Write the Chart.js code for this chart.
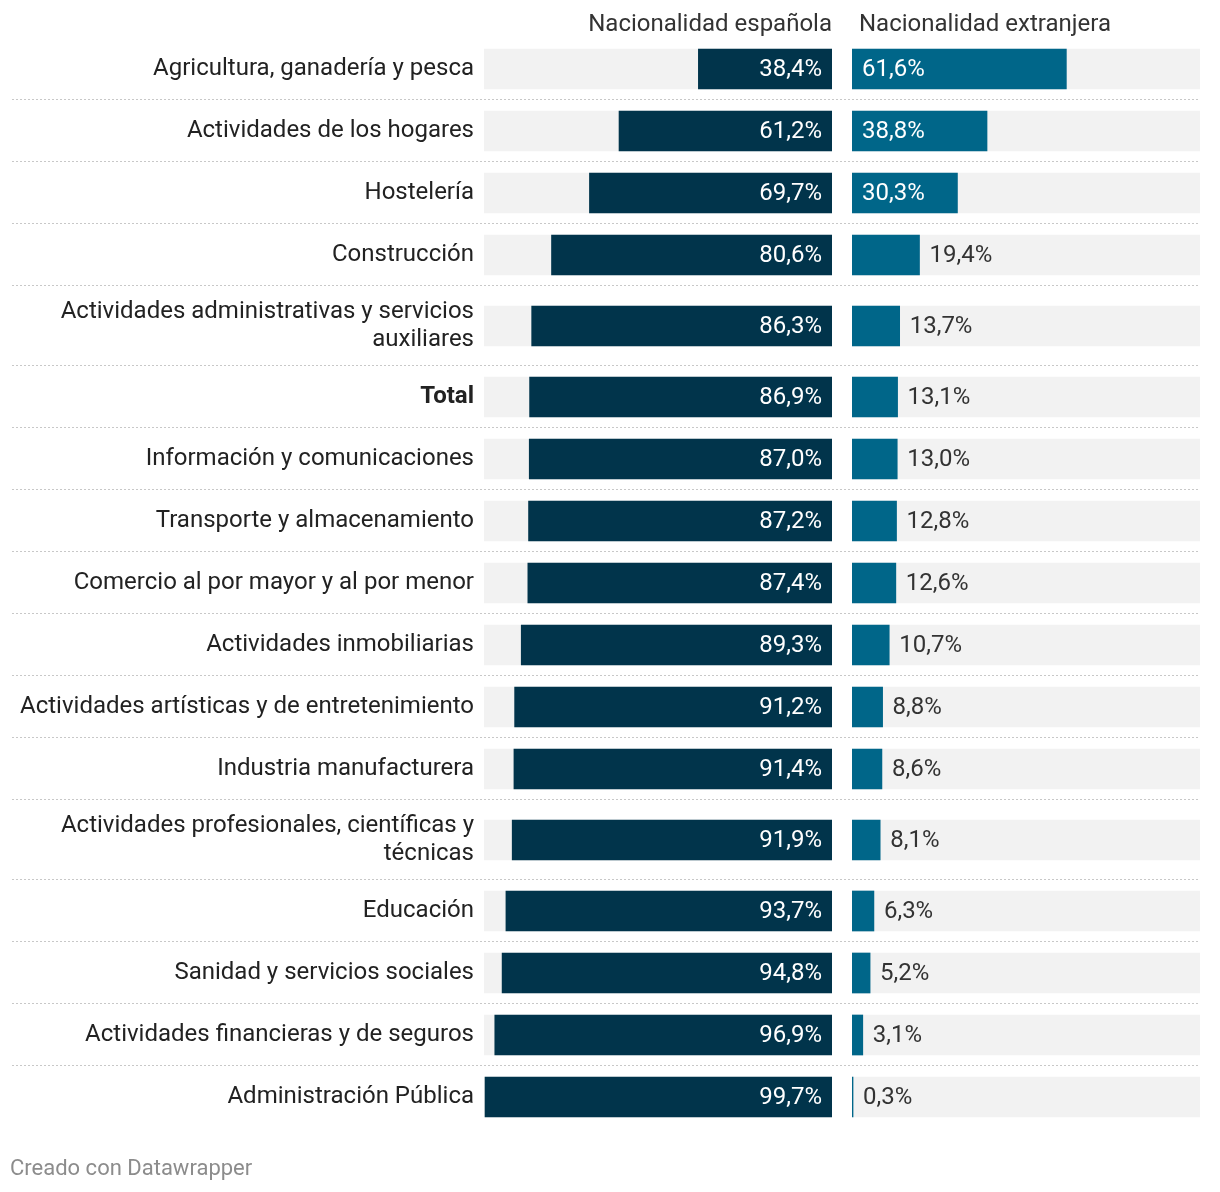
<!DOCTYPE html>
<html>
<head>
<meta charset="utf-8">
<script src="https://cdn.jsdelivr.net/npm/chart.js@4.4.1/dist/chart.umd.min.js"></script>
<style>
  html, body { margin: 0; padding: 0; background: #ffffff; }
  #wrap { position: relative; width: 1220px; height: 1192px; }
  canvas { display: block; }
</style>
</head>
<body>
<div id="wrap"><canvas id="c" width="1220" height="1192"></canvas></div>
<script>
// ---- Data ----
const categories = [
  ["Agricultura, ganadería y pesca"],
  ["Actividades de los hogares"],
  ["Hostelería"],
  ["Construcción"],
  ["Actividades administrativas y servicios", "auxiliares"],
  ["Total"],
  ["Información y comunicaciones"],
  ["Transporte y almacenamiento"],
  ["Comercio al por mayor y al por menor"],
  ["Actividades inmobiliarias"],
  ["Actividades artísticas y de entretenimiento"],
  ["Industria manufacturera"],
  ["Actividades profesionales, científicas y", "técnicas"],
  ["Educación"],
  ["Sanidad y servicios sociales"],
  ["Actividades financieras y de seguros"],
  ["Administración Pública"]
];
const spanish = [38.4, 61.2, 69.7, 80.6, 86.3, 86.9, 87.0, 87.2, 87.4, 89.3, 91.2, 91.4, 91.9, 93.7, 94.8, 96.9, 99.7];
const foreign = [61.6, 38.8, 30.3, 19.4, 13.7, 13.1, 13.0, 12.8, 12.6, 10.7, 8.8, 8.6, 8.1, 6.3, 5.2, 3.1, 0.3];
const seriesNames = ["Nacionalidad española", "Nacionalidad extranjera"];
const fullScale = categories.map(() => 100);
const footerText = "Creado con Datawrapper";

// ---- Layout helpers (row heights depend on number of label lines) ----
const ROW = 62, EXTRA_LINE = 18;
const rowHeights = categories.map(l => ROW + EXTRA_LINE * (l.length - 1));
const rowStarts = [];
let acc = 0;
rowHeights.forEach(h => { rowStarts.push(acc); acc += h; });
const totalH = acc;
const rowCenters = rowStarts.map((s, i) => s + rowHeights[i] / 2);

const FONT = "Roboto, 'Open Sans', sans-serif";
const FS = 24;
const fmt = v => v.toFixed(1).replace('.', ',') + '%';

const COL_ES = '#01344b';
const COL_EX = '#006689';
const COL_BG = '#f2f2f2';
const TXT = '#333333';

const extrasPlugin = {
  id: 'extras',
  beforeDatasetsDraw(chart) {
    const ctx = chart.ctx, y = chart.scales.y;
    ctx.save();
    ctx.strokeStyle = '#c8c8c8';
    ctx.lineWidth = 1;
    ctx.setLineDash([2, 2]);
    for (let i = 1; i < rowStarts.length; i++) {
      const py = Math.round(y.getPixelForValue(rowStarts[i])) - 0.5;
      ctx.beginPath();
      ctx.moveTo(12, py);
      ctx.lineTo(chart.chartArea.right, py);
      ctx.stroke();
    }
    ctx.restore();
  },
  afterDatasetsDraw(chart) {
    const ctx = chart.ctx;
    const xL = chart.scales.xL, xR = chart.scales.xR;
    ctx.save();
    ctx.font = FS + 'px ' + FONT;
    ctx.textBaseline = 'middle';
    const metaL = chart.getDatasetMeta(0), metaR = chart.getDatasetMeta(1);
    metaL.data.forEach((bar, i) => {
      ctx.fillStyle = '#ffffff';
      ctx.textAlign = 'right';
      ctx.fillText(fmt(spanish[i]), bar.base - 10, bar.y + 1);
    });
    metaR.data.forEach((bar, i) => {
      ctx.textAlign = 'left';
      if (foreign[i] >= 25) {
        ctx.fillStyle = '#ffffff';
        ctx.fillText(fmt(foreign[i]), bar.base + 10, bar.y + 1);
      } else {
        ctx.fillStyle = TXT;
        ctx.fillText(fmt(foreign[i]), bar.x + 10, bar.y + 1);
      }
    });
    // headers
    ctx.fillStyle = TXT;
    ctx.font = FS + 'px ' + FONT;
    ctx.textAlign = 'right';
    ctx.fillText(seriesNames[0], xL.left + xL.width, 25);
    ctx.textAlign = 'left';
    ctx.fillText(seriesNames[1], xR.left + 7, 25);
    // footer
    ctx.fillStyle = '#8c8c8c';
    ctx.font = '22px ' + FONT;
    ctx.fillText(footerText, 10, 1169);
    ctx.restore();
  }
};

const hiddenX = (weight, reverse) => ({
  type: 'linear', position: 'bottom', stack: 'panels', stackWeight: weight,
  min: 0, max: 100, reverse: reverse, offset: false,
  grid: { display: false, drawTicks: false, offset: false }, border: { display: false },
  ticks: { display: false },
  afterFit: s => { s.height = 0; s.paddingLeft = 0; s.paddingRight = 0; }
});

new Chart(document.getElementById('c'), {
  type: 'bar',
  data: {
    datasets: [
      { label: seriesNames[0], xAxisID: 'xL', yAxisID: 'y', order: 1,
        data: spanish.map((v, i) => ({ x: v, y: rowCenters[i] })), backgroundColor: COL_ES },
      { label: seriesNames[1], xAxisID: 'xR', yAxisID: 'y', order: 1,
        data: foreign.map((v, i) => ({ x: v, y: rowCenters[i] })), backgroundColor: COL_EX },
      { label: 'bgL', xAxisID: 'xL', yAxisID: 'y', order: 2,
        data: fullScale.map((v, i) => ({ x: v, y: rowCenters[i] })), backgroundColor: COL_BG },
      { label: 'bgR', xAxisID: 'xR', yAxisID: 'y', order: 2,
        data: fullScale.map((v, i) => ({ x: v, y: rowCenters[i] })), backgroundColor: COL_BG }
    ]
  },
  options: {
    indexAxis: 'y',
    responsive: false,
    animation: false,
    events: [],
    datasets: { bar: { grouped: false, barThickness: 40, borderWidth: 0 } },
    layout: { autoPadding: false, padding: { left: 0, right: 20, top: 38, bottom: 64 } },
    plugins: { legend: { display: false }, tooltip: { enabled: false } },
    scales: {
      y: {
        type: 'linear', position: 'left', reverse: true, min: 0, max: totalH,
        offset: false,
        grid: { display: false, drawTicks: false, offset: false }, border: { display: false },
        afterBuildTicks: s => { s.ticks = rowCenters.map(v => ({ value: v })); },
        afterFit: s => { s.width = 484; s.paddingTop = 0; s.paddingBottom = 0; },
        ticks: {
          autoSkip: false,
          padding: 10,
          color: '#222222',
          font: ctx => ({ family: FONT, size: FS, lineHeight: 28 / FS,
            weight: (categories[ctx.index] && categories[ctx.index][0] === 'Total') ? 'bold' : 'normal' }),
          callback: (v, i) => categories[i].length > 1 ? categories[i] : categories[i][0]
        }
      },
      xL: hiddenX(348, true),
      xG: hiddenX(20, false),
      xR: hiddenX(348, false)
    }
  },
  plugins: [extrasPlugin]
});
</script>
</body>
</html>
